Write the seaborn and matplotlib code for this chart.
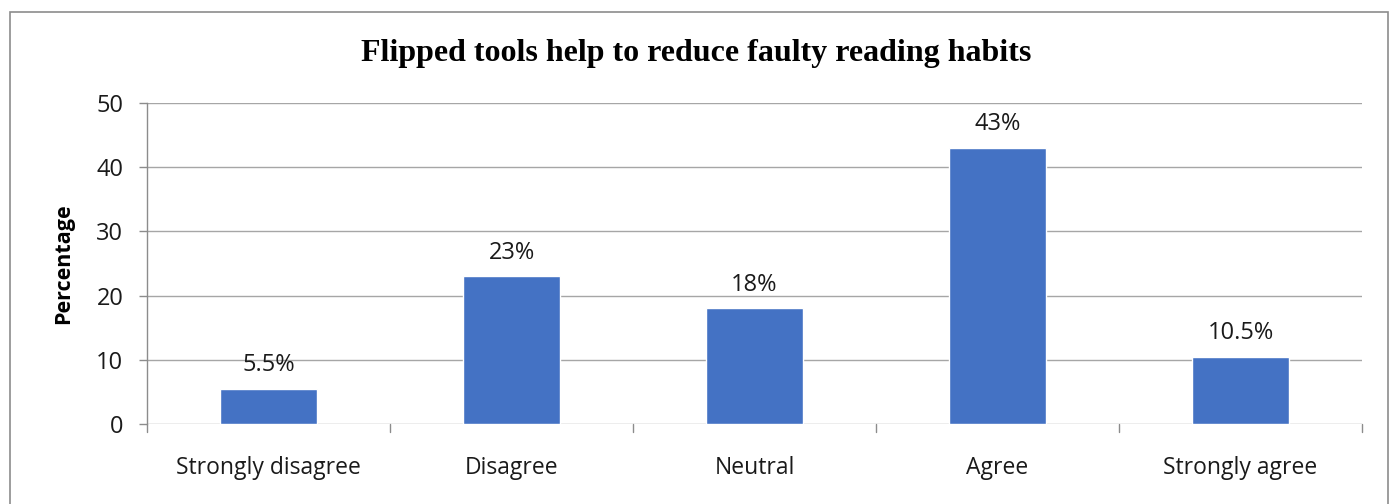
import matplotlib
matplotlib.use("Agg")
import matplotlib.pyplot as plt
import matplotlib.patches as mpatches
import seaborn as sns
import pandas as pd

categories = ["Strongly disagree", "Disagree", "Neutral", "Agree", "Strongly agree"]
values = [5.5, 23, 18, 43, 10.5]
labels = ["5.5%", "23%", "18%", "43%", "10.5%"]
yticks = [0, 10, 20, 30, 40, 50]

sns.set_theme(style="white")
plt.rcParams["font.family"] = ["Open Sans", "DejaVu Sans"]

df = pd.DataFrame({"category": categories, "value": values})

fig = plt.figure(figsize=(13.93, 5.04), dpi=100)
ax = fig.add_axes([147 / 1393, 1 - 424 / 504, (1362 - 147) / 1393, (424 - 103) / 504])

sns.barplot(data=df, x="category", y="value", color="#4472C4", width=0.4,
            saturation=1, ax=ax, zorder=3)

ax.set_ylim(0, 50)
ax.set_xlim(-0.5, 4.5)
ax.set_yticks(yticks)
ax.set_yticklabels([str(t) for t in yticks], fontsize=17, color="#1a1a1a")
ax.tick_params(axis="x", length=0, pad=23, labelsize=16.5, labelcolor="#1a1a1a")
ax.tick_params(axis="y", length=6, width=1, color="#8c8c8c", pad=11, left=True)

ax.grid(axis="y", color="#a6a6a6", linewidth=1, zorder=0)
for side in ["top", "right", "bottom"]:
    ax.spines[side].set_visible(False)
ax.spines["left"].set_color("#8c8c8c")
ax.spines["left"].set_linewidth(1)

# category separators below the baseline
for b in [-0.5, 0.5, 1.5, 2.5, 3.5, 4.5]:
    ax.plot([b, b], [0, -1.2], color="#8c8c8c", linewidth=1, clip_on=False, zorder=2)

for i, (v, lab) in enumerate(zip(values, labels)):
    ax.annotate(lab, (i, v), xytext=(0, 8.5), textcoords="offset points",
                ha="center", va="bottom", fontsize=17, color="#1a1a1a")

ax.set_xlabel("")
ax.set_ylabel("Percentage", fontsize=15.5, fontweight="bold", labelpad=16, color="black")

fig.text(0.5, 1 - 53 / 504, "Flipped tools help to reduce faulty reading habits",
         ha="center", va="center", fontsize=23, fontweight="bold",
         family=["Liberation Serif", "DejaVu Serif"], color="black")

fig.patches.append(mpatches.Rectangle((10 / 1393, -0.05), (1388 - 10) / 1393, 1.05 - 12 / 504,
                                      transform=fig.transFigure, fill=False,
                                      edgecolor="#8c8c8c", linewidth=1.2))

fig.savefig("out.png", dpi=100)
